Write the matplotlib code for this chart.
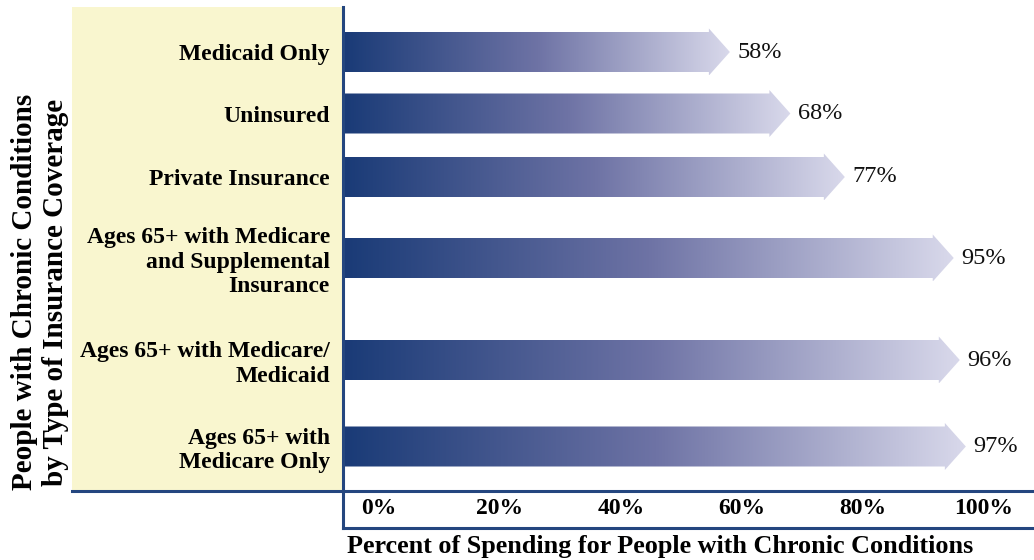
import numpy as np
import matplotlib.pyplot as plt
from matplotlib.patches import Polygon, Rectangle
from matplotlib.lines import Line2D
from matplotlib.colors import LinearSegmentedColormap

# spending share by coverage type (%)
categories = ["Medicaid Only",
              "Uninsured",
              "Private Insurance",
              "Ages 65+ with Medicare\nand Supplemental\nInsurance",
              "Ages 65+ with Medicare/\nMedicaid",
              "Ages 65+ with\nMedicare Only"]
values = [58, 68, 77, 95, 96, 97]
tick_vals = [0, 20, 40, 60, 80, 100]

# row centres (rows with wrapped labels get more room)
row_y = [52, 113.5, 177, 258, 360, 446.5]

W, H = 1034, 560
navy = "#24467f"
serif = "Liberation Serif"

fig = plt.figure(figsize=(W / 100, H / 100), dpi=100)

# plot area in pixels
left, right, top, bottom = 343, 1034, 7, 491
ax = fig.add_axes([left / W, 1 - bottom / H, (right - left) / W, (bottom - top) / H])
ax.patch.set_alpha(0)

px_per_pct = 6.05
x_zero = 379
xmin = (left - x_zero) / px_per_pct
xmax = (right - x_zero) / px_per_pct

# yellow label panel
fig.add_artist(Rectangle((72 / W, 1 - bottom / H), (left - 72) / W, (bottom - top) / H,
                         transform=fig.transFigure, facecolor="#f9f6cf", edgecolor="none", zorder=0))

cmap = LinearSegmentedColormap.from_list("bar", ["#1a3b77", "#6e73a5", "#d9d9eb"])
grad = np.linspace(0, 1, 256).reshape(1, -1)

shaft_h = 20
head_h = 23.5
head_len = 21 / px_per_pct
x0 = xmin + 0.3

for y, v in zip(row_y, values):
    verts = [(x0, y - shaft_h), (v - head_len, y - shaft_h), (v - head_len, y - head_h),
             (v, y), (v - head_len, y + head_h), (v - head_len, y + shaft_h), (x0, y + shaft_h)]
    poly = Polygon(verts, closed=True, facecolor="none", edgecolor="none")
    ax.add_patch(poly)
    im = ax.imshow(grad, cmap=cmap, aspect="auto", extent=[x0, v, y + head_h, y - head_h],
                   interpolation="bilinear", zorder=2)
    im.set_clip_path(poly)
    ax.text(v + 1.2, y, f"{v}%", va="center", ha="left", fontsize=17.5,
            family=serif, color="#111111")

ax.set_xlim(xmin, xmax)
ax.set_ylim(bottom, top)

ax.set_yticks(row_y)
ax.set_yticklabels(categories, fontsize=17, fontweight="bold", family=serif, linespacing=1.2)
ax.set_xticks(tick_vals)
ax.set_xticklabels([f"{t}%" for t in tick_vals], fontsize=17, fontweight="bold", family=serif)
ax.tick_params(axis="both", length=0)
ax.tick_params(axis="y", pad=9.5)
ax.tick_params(axis="x", pad=5)
for s in ax.spines.values():
    s.set_visible(False)

# axis lines and the tick label box
def fig_line(x1, y1, x2, y2):
    fig.add_artist(Line2D([x1 / W, x2 / W], [1 - y1 / H, 1 - y2 / H], transform=fig.transFigure,
                          color=navy, linewidth=2.2, zorder=5))

fig_line(left, top, left, 528)
fig_line(72, bottom, right, bottom)
fig_line(left, 528, right, 528)

fig.text(660 / W, 1 - 546 / H, "Percent of Spending for People with Chronic Conditions",
         ha="center", va="center", fontsize=18.8, fontweight="bold", family=serif)
fig.text(40 / W, 1 - 292 / H, "People with Chronic Conditions\nby Type of Insurance Coverage",
         ha="center", va="center", rotation=90, fontsize=21, fontweight="bold", family=serif,
         linespacing=1.22)

fig.savefig("out.png", dpi=100)
